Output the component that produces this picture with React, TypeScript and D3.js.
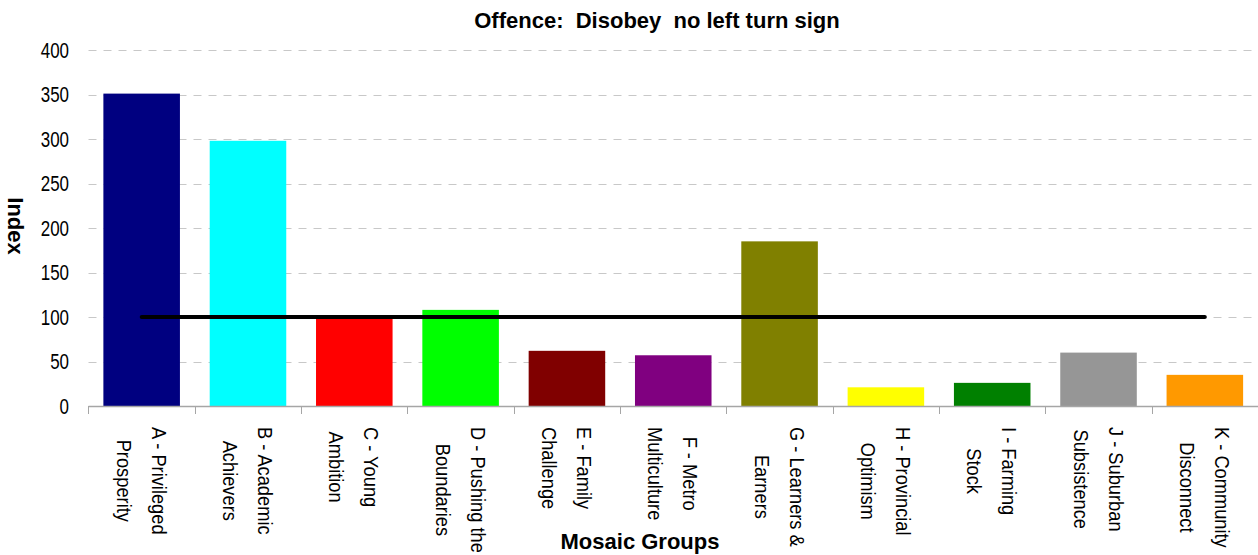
import React, { useEffect, useRef } from "react";
import * as d3 from "d3";

const title = "Offence:  Disobey  no left turn sign";
const yAxisTitle = "Index";
const xAxisTitle = "Mosaic Groups";
const categories = ["A", "B", "C", "D", "E", "F", "G", "H", "I", "J", "K"];
const labelLine1 = [
  "A - Privileged", "B - Academic", "C - Young", "D - Pushing the", "E - Family",
  "F - Metro", "G - Learners &", "H - Provincial", "I - Farming", "J - Suburban", "K - Community",
];
const labelLine2 = [
  "Prosperity", "Achievers", "Ambition", "Boundaries", "Challenge",
  "Multiculture", "Earners", "Optimism", "Stock", "Subsistence", "Disconnect",
];
const values = [351, 298, 98, 108, 62, 57, 185, 21, 26, 60, 35];
const colors = [
  "#000080", "#00FFFF", "#FF0000", "#00FF00", "#800000",
  "#800080", "#808000", "#FFFF00", "#008000", "#969696", "#FF9900",
];
const benchmark = 100;
const yTicks = [0, 50, 100, 150, 200, 250, 300, 350, 400];

const W = 1258;
const H = 555;
const FONT = "'Liberation Sans', Arial, sans-serif";

export default function App() {
  const ref = useRef<SVGSVGElement>(null);

  useEffect(() => {
    const svg = d3.select(ref.current);
    svg.selectAll("*").remove();

    const left = 88.5;
    const right = 1258;
    const x = d3.scaleBand<string>().domain(categories).range([left, right]).paddingInner(0.28).paddingOuter(0.14);
    const y = d3.scaleLinear().domain([0, 400]).range([406, 50]);
    const step = x.step();

    // gridlines
    svg.append("g").selectAll("line").data(yTicks.filter((t) => t > 0)).join("line")
      .attr("x1", left).attr("x2", right)
      .attr("y1", (d) => Math.round(y(d)) + 0.5).attr("y2", (d) => Math.round(y(d)) + 0.5)
      .attr("stroke", "#c8c8c8").attr("stroke-width", 1).attr("stroke-dasharray", "8,7");

    // y tick labels (condensed)
    svg.append("g").selectAll("text").data(yTicks).join("text")
      .attr("transform", (d) => `translate(69,${y(d)}) scale(0.77,1)`)
      .attr("dy", "0.36em")
      .attr("text-anchor", "end")
      .attr("font-family", FONT).attr("font-size", 22).attr("fill", "#000")
      .text((d) => d);

    // bars
    svg.append("g").selectAll("rect").data(values).join("rect")
      .attr("x", (_, i) => x(categories[i])!)
      .attr("width", x.bandwidth())
      .attr("y", (d) => y(d))
      .attr("height", (d) => y(0) - y(d))
      .attr("fill", (_, i) => colors[i]);

    // x axis line + ticks
    const ax = svg.append("g");
    ax.append("line").attr("x1", left).attr("x2", right).attr("y1", 406.5).attr("y2", 406.5)
      .attr("stroke", "#a6a6a6").attr("stroke-width", 1.5);
    const tickXs = categories.map((c) => x(c)! - (step * x.paddingInner()) / 2);
    ax.selectAll("line.tick").data(tickXs).join("line").attr("class", "tick")
      .attr("x1", (d) => Math.round(d) + 0.5).attr("x2", (d) => Math.round(d) + 0.5)
      .attr("y1", 406).attr("y2", 414)
      .attr("stroke", "#a6a6a6").attr("stroke-width", 1);

    // benchmark line
    svg.append("line")
      .attr("x1", x(categories[0])! + x.bandwidth() / 2)
      .attr("x2", x(categories[categories.length - 1])! + x.bandwidth() / 2)
      .attr("y1", y(benchmark)).attr("y2", y(benchmark))
      .attr("stroke", "#000").attr("stroke-width", 4).attr("stroke-linecap", "round");

    // x labels (rotated, condensed along text direction)
    categories.forEach((c, i) => {
      const cx = x(c)! + x.bandwidth() / 2;
      const g = svg.append("g").attr("transform", `translate(${cx},427) rotate(90) scale(0.87,1)`);
      const t1 = g.append("text").attr("y", -10).attr("font-family", FONT).attr("font-size", 21)
        .attr("text-anchor", "middle").text(labelLine1[i]);
      const t2 = g.append("text").attr("y", 25).attr("font-family", FONT).attr("font-size", 21)
        .attr("text-anchor", "middle").text(labelLine2[i]);
      const w = Math.max(
        (t1.node() as SVGTextElement).getComputedTextLength(),
        (t2.node() as SVGTextElement).getComputedTextLength()
      );
      t1.attr("x", w / 2);
      t2.attr("x", w / 2);
    });

    // titles
    svg.append("text").attr("x", 657).attr("y", 28).attr("text-anchor", "middle")
      .style("white-space", "pre")
      .attr("font-family", FONT).attr("font-size", 22).attr("font-weight", "bold").text(title);
    svg.append("text").attr("x", 640).attr("y", 549).attr("text-anchor", "middle")
      .attr("font-family", FONT).attr("font-size", 22).attr("font-weight", "bold").text(xAxisTitle);
    svg.append("text").attr("transform", "translate(8,226) rotate(90)").attr("text-anchor", "middle")
      .attr("font-family", FONT).attr("font-size", 22).attr("font-weight", "bold").text(yAxisTitle);
  }, []);

  return (
    <svg ref={ref} width={W} height={H}
      style={{ position: "absolute", left: 0, top: 0, background: "#fff", overflow: "hidden" }} />
  );
}
